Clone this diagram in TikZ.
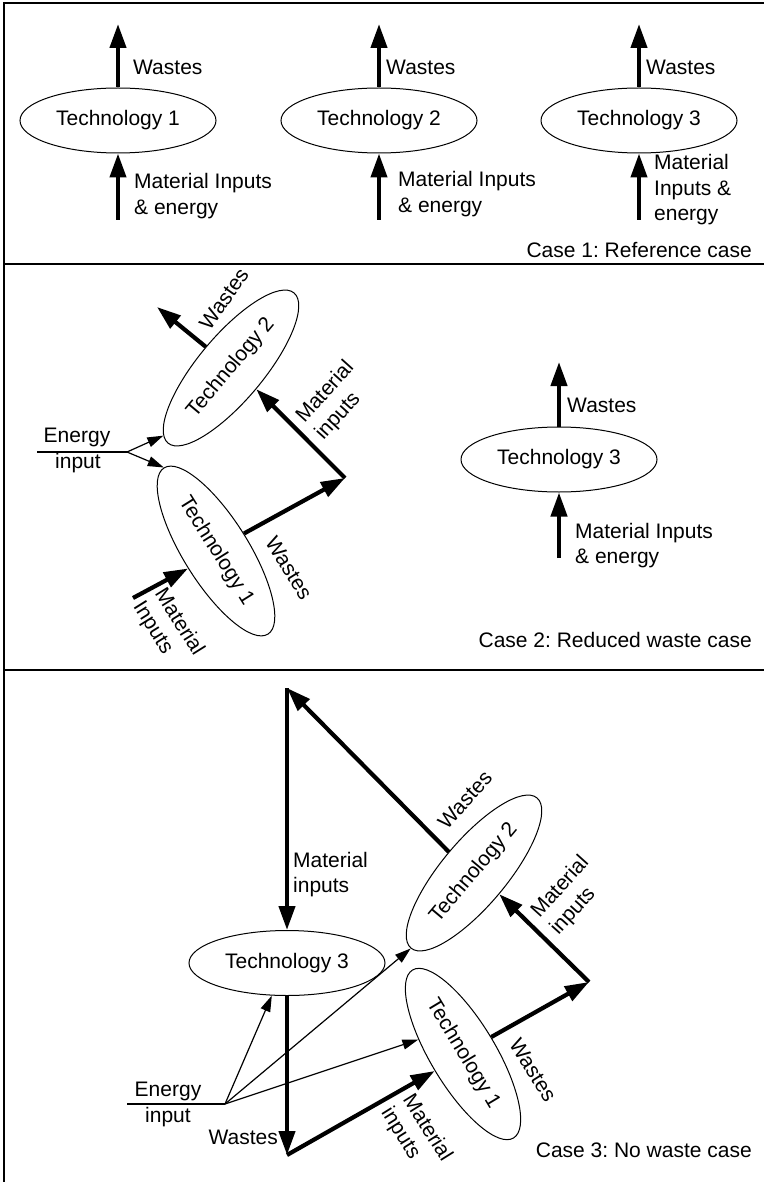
\documentclass[tikz,border=0pt]{standalone}
\usepackage{fontspec}
\setmainfont{Liberation Sans}
\usetikzlibrary{arrows.meta,shapes.geometric}
\frenchspacing
\begin{document}
\begin{tikzpicture}[x=1pt,y=-1pt,
  font=\fontsize{21}{25.5}\selectfont,
  tech/.style={draw,ellipse,line width=1pt,minimum width=196pt,minimum height=65pt,inner sep=0pt},
  flow/.style={line width=4.2pt,-{Triangle[length=24pt,width=16pt]}},
  feed/.style={line width=1.2pt,-{Triangle[length=16pt,width=10pt]}},
  lbl/.style={inner sep=0pt,align=left},
  frame/.style={line width=1.6pt}]
\useasboundingbox (0,0) rectangle (764,1182);

% panel frame and dividers
\draw[frame] (4,1182) -- (4,3) -- (764,3);
\draw[frame] (4,264) -- (764,264);
\draw[frame] (4,670) -- (764,670);

% ---------- Case 1 ----------
\node[tech] (a1) at (118,120.5) {Technology 1};
\node[tech] (a2) at (379,120.5) {Technology 2};
\node[tech] (a3) at (639,120.5) {Technology 3};
\coordinate (a1w) at (118,24);
\coordinate (a2w) at (379,24);
\coordinate (a3w) at (639,24);
\coordinate (a1i) at (118,220);
\coordinate (a2i) at (379,220);
\coordinate (a3i) at (639,220);
\draw[flow] (a1.north) -- (a1w);
\draw[flow] (a2.north) -- (a2w);
\draw[flow] (a3.north) -- (a3w);
\draw[flow] (a1i) -- (a1.south);
\draw[flow] (a2i) -- (a2.south);
\draw[flow] (a3i) -- (a3.south);
\node[lbl,anchor=west] (a1wl) at (133,67) {Wastes};
\node[lbl,anchor=west] (a2wl) at (386,67) {Wastes};
\node[lbl,anchor=west] (a3wl) at (646,67) {Wastes};
\node[lbl,anchor=west] (a1il) at (134,196) {Material Inputs\\\& energy};
\node[lbl,anchor=west] (a2il) at (398,194) {Material Inputs\\\& energy};
\node[lbl,anchor=west] (a3il) at (654,190) {Material\\Inputs \&\\energy};
\node[lbl,anchor=east] (a0) at (752,250) {Case 1: Reference case};

% ---------- Case 2 ----------
\node[tech,rotate=50] (b2) at (231,368) {Technology 2};
\node[tech,rotate=-58] (b1) at (216,551) {Technology 1};
\node[tech] (b3) at (559,459.5) {Technology 3};
\coordinate (b2w) at (157,307);
\coordinate (bc) at (345,478);
\coordinate (b1i) at (133,598);
\coordinate (be0) at (37,452);
\coordinate (be) at (127,452);
\coordinate (b3w) at (559,362);
\coordinate (b3i) at (559,558);
\draw[flow] (b2.north) -- (b2w);
\draw[flow] (b1.north) -- (bc);
\draw[flow] (bc) -- (b2.south);
\draw[flow] (b1i) -- (b1.south);
\draw[line width=1.2pt] (be0) -- (be);
\draw[feed] (be) -- (b2.175);
\draw[feed] (be) -- (b1.west);
\draw[flow] (b3.north) -- (b3w);
\draw[flow] (b3i) -- (b3.south);
\node[lbl,rotate=55] (b2wl) at (224,299) {Wastes};
\node[lbl,rotate=48] (bcl) at (335,401) {Material\\inputs};
\node[lbl,rotate=-58] (b1wl) at (289,568) {Wastes};
\node[lbl,rotate=-58] (b1il) at (168,629) {Material\\Inputs};
\node[lbl] (bel1) at (77,437) {Energy};
\node[lbl] (bel2) at (78,463) {input};
\node[lbl,anchor=west] (b3wl) at (567,405) {Wastes};
\node[lbl,anchor=west] (b3il) at (575,545.5) {Material Inputs\\\& energy};
\node[lbl,anchor=east] (b0) at (752,640) {Case 2: Reduced waste case};

% ---------- Case 3 ----------
\node[tech] (c3) at (287,963) {Technology 3};
\node[tech,rotate=50] (c2) at (474,873) {Technology 2};
\node[tech,rotate=-59] (c1) at (463,1054) {Technology 1};
\coordinate (ct) at (287,688);
\coordinate (cr) at (589,982);
\coordinate (cb) at (287,1155);
\coordinate (ce0) at (127,1104);
\coordinate (ce) at (225,1104);
\draw[flow] (c2.north) -- (ct);
\draw[flow] (ct) -- (c3.north);
\draw[flow] (c3.south) -- (cb);
\draw[flow] (cb) -- (c1.south);
\draw[flow] (c1.north) -- (cr);
\draw[flow] (cr) -- (c2.south);
\draw[line width=1.2pt] (ce0) -- (ce);
\draw[feed] (ce) -- (c3.245);
\draw[feed] (ce) -- (c2.west);
\draw[feed] (ce) -- (c1.221);
\node[lbl,rotate=48] (c2wl) at (465,800) {Wastes};
\node[lbl,anchor=west] (c3il) at (293,874.5) {Material\\inputs};
\node[lbl,rotate=48] (crl) at (570,896) {Material\\inputs};
\node[lbl,rotate=-58] (c1wl) at (533,1070) {Wastes};
\node[lbl,rotate=-58] (c1il) at (416,1135) {Material\\inputs};
\node[lbl,anchor=east] (c3wl) at (278,1137) {Wastes};
\node[lbl] (cel1) at (168,1091) {Energy};
\node[lbl] (cel2) at (168,1117) {input};
\node[lbl,anchor=east] (c0) at (752,1150) {Case 3: No waste case};
\end{tikzpicture}
\end{document}
